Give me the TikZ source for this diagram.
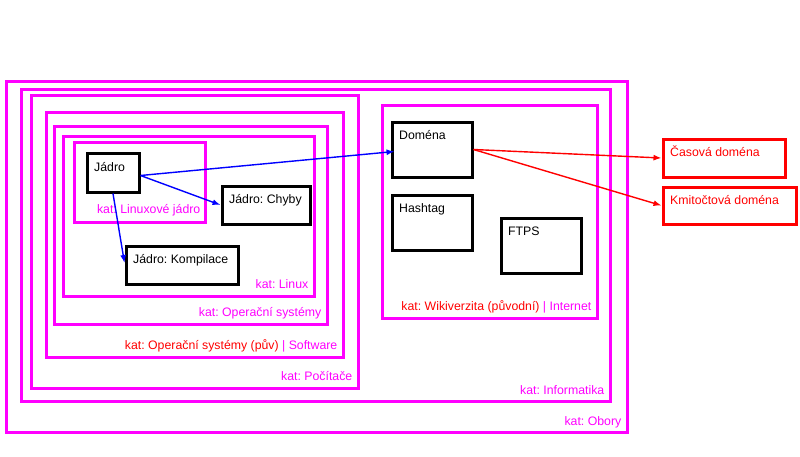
\documentclass[tikz,border=0pt]{standalone}
\usepackage{fontspec}
\setmainfont{Liberation Sans}
\usetikzlibrary{fit,arrows.meta}
\definecolor{mag}{RGB}{255,0,255}
\definecolor{rd}{RGB}{255,0,0}
\definecolor{bl}{RGB}{0,0,255}
\frenchspacing
\begin{document}
\begin{tikzpicture}[x=1pt,y=-1pt,font=\fontsize{12.3}{14}\selectfont,
  catbox/.style={draw=mag,line width=3pt,inner sep=0pt},
  blackbox/.style={draw=black,line width=3pt,inner sep=0pt},
  redbox/.style={draw=rd,line width=3pt,inner sep=0pt},
  catlabel/.style={text=mag,inner sep=0pt,anchor=base east},
  boxtext/.style={inner sep=0pt,anchor=base west},
  bluearrow/.style={draw=bl,line width=1.4pt,-{Latex[length=8pt,width=6pt]}},
  redarrow/.style={draw=rd,line width=1.4pt,-{Latex[length=8pt,width=6pt]}}]
\useasboundingbox (0,0) rectangle (800,456);

% category containers
\node[catbox,fit={(6,81) (627,432)}] (obory) {};
\node[catlabel] (obory-l) at ([xshift=-7pt,yshift=8pt]obory.south east) {kat: Obory};
\node[catbox,fit={(21,89) (610,401)}] (informatika) {};
\node[catlabel] (informatika-l) at ([xshift=-7pt,yshift=8.5pt]informatika.south east) {kat: Informatika};
\node[catbox,fit={(31,95) (358,388)}] (pocitace) {};
\node[catlabel] (pocitace-l) at ([xshift=-7pt,yshift=9pt]pocitace.south east) {kat: Počítače};
\node[catbox,fit={(46,112) (343,357)}] (ossw) {};
\node[catlabel] (ossw-l) at ([xshift=-7pt,yshift=9pt]ossw.south east) {\textcolor{rd}{kat: Operační systémy (pův)} | Software};
\node[catbox,fit={(54,126) (327,324)}] (os) {};
\node[catlabel] (os-l) at ([xshift=-7pt,yshift=9pt]os.south east) {kat: Operační systémy};
\node[catbox,fit={(63,136) (314,296)}] (linux) {};
\node[catlabel] (linux-l) at ([xshift=-7pt,yshift=9pt]linux.south east) {kat: Linux};
\node[catbox,fit={(74,142) (205,222)}] (linjadro) {};
\node[catlabel] (linjadro-l) at ([xshift=-6pt,yshift=10pt]linjadro.south east) {kat: Linuxové jádro};
\node[catbox,fit={(382,105) (597,318)}] (wiki) {};
\node[catlabel] (wiki-l) at ([xshift=-7pt,yshift=9pt]wiki.south east) {\textcolor{rd}{kat: Wikiverzita (původní)} | Internet};

% article boxes
\node[blackbox,fit={(87,153) (139,192)}] (jadro) {};
\node[boxtext] (jadro-t) at ([xshift=8.5pt,yshift=-19.5pt]jadro.north west) {Jádro};
\node[blackbox,fit={(222,186) (310,224)}] (chyby) {};
\node[boxtext] (chyby-t) at ([xshift=8.5pt,yshift=-18.5pt]chyby.north west) {Jádro: Chyby};
\node[blackbox,fit={(126,246) (238,284)}] (kompilace) {};
\node[boxtext] (kompilace-t) at ([xshift=8.5pt,yshift=-18.5pt]kompilace.north west) {Jádro: Kompilace};
\node[blackbox,fit={(392,122) (472,177)}] (domena) {};
\node[boxtext] (domena-t) at ([xshift=8.5pt,yshift=-18.5pt]domena.north west) {Doména};
\node[blackbox,fit={(392,195) (472,250)}] (hashtag) {};
\node[boxtext] (hashtag-t) at ([xshift=8.5pt,yshift=-18.5pt]hashtag.north west) {Hashtag};
\node[blackbox,fit={(501,218) (581,273)}] (ftps) {};
\node[boxtext] (ftps-t) at ([xshift=8.5pt,yshift=-18.5pt]ftps.north west) {FTPS};
\node[redbox,fit={(663,139) (785,177)}] (casova) {};
\node[boxtext,text=rd] (casova-t) at ([xshift=8.5pt,yshift=-18.5pt]casova.north west) {Časová doména};
\node[redbox,fit={(663,187) (796,224)}] (kmit) {};
\node[boxtext,text=rd] (kmit-t) at ([xshift=8.5pt,yshift=-18.5pt]kmit.north west) {Kmitočtová doména};

% connectors
\draw[bluearrow] ([yshift=-3pt]jadro.east) -- ([xshift=4pt,yshift=-2pt]domena.west);
\draw[bluearrow] ([yshift=-3pt]jadro.east) -- (chyby.west);
\draw[bluearrow] (jadro.south) -- ([yshift=2pt]kompilace.west);
\draw[redarrow] (domena.east) -- (casova.west);
\draw[redarrow] (domena.east) -- (kmit.west);
\end{tikzpicture}
\end{document}
